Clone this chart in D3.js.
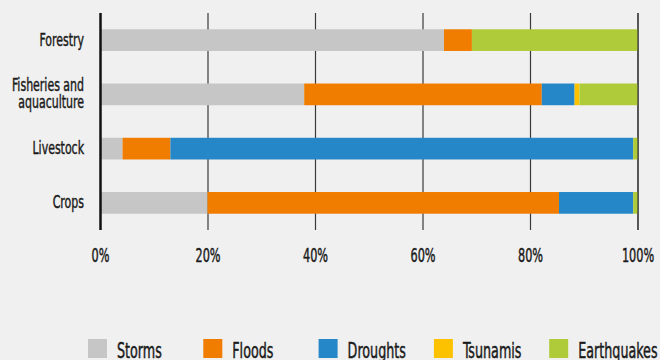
<!DOCTYPE html>
<html><head><meta charset="utf-8">
<script src="https://cdn.jsdelivr.net/npm/d3@7"></script>
<style>
html,body{margin:0;padding:0;background:#f0f0f0;}
svg{display:block;font-family:"DejaVu Sans Condensed","DejaVu Sans",sans-serif;font-stretch:condensed;}
svg text{stroke:#1a1a1a;stroke-width:0.45px;paint-order:stroke;}
</style></head>
<body>
<svg id="chart" width="660" height="360"></svg>
<script>
const categories = ["Forestry", "Fisheries and\naquaculture", "Livestock", "Crops"];
const seriesNames = ["Storms", "Floods", "Droughts", "Tsunamis", "Earthquakes"];
const storms      = [63.9, 37.9, 4.1, 19.9];
const floods      = [5.2, 44.2, 8.9, 65.4];
const droughts    = [0, 6.1, 86.1, 13.8];
const tsunamis    = [0, 0.9, 0, 0];
const earthquakes = [30.9, 10.9, 0.9, 0.9];
const tickValues  = [0, 20, 40, 60, 80, 100];
const colors = ["#c6c6c6", "#f07d00", "#2587c8", "#fcc200", "#b0cb3a"];

const svg = d3.select("#chart");
svg.append("rect").attr("width",660).attr("height",360).attr("fill","#f0f0f0");

const rows = categories.map((c,i)=>({cat:c, Storms:storms[i], Floods:floods[i], Droughts:droughts[i], Tsunamis:tsunamis[i], Earthquakes:earthquakes[i]}));

const x = d3.scaleLinear().domain([0,100]).range([100.5,638]);
const y = d3.scaleBand().domain(categories).range([13,230]).paddingInner(0.6).paddingOuter(0.3);
const SX = 0.66;

// gridlines
svg.append("g").selectAll("line").data(tickValues.slice(1)).join("line")
  .attr("x1",d=>x(d)).attr("x2",d=>x(d)).attr("y1",13).attr("y2",230)
  .attr("stroke","#3a3a3a").attr("stroke-width",1.2);

const stack = d3.stack().keys(seriesNames)(rows);
const color = d3.scaleOrdinal().domain(seriesNames).range(colors);

svg.append("g").selectAll("g").data(stack).join("g")
  .attr("fill",d=>color(d.key))
  .selectAll("rect").data(d=>d).join("rect")
  .attr("x",d=>x(d[0])).attr("width",d=>Math.max(0,x(d[1])-x(d[0])))
  .attr("y",d=>y(d.data.cat)).attr("height",y.bandwidth());

// 100% line on top
svg.append("line").attr("x1",x(100)).attr("x2",x(100)).attr("y1",13).attr("y2",230)
  .attr("stroke","#3a3a3a").attr("stroke-width",1.2);

// axis line
svg.append("line").attr("x1",x(0)).attr("x2",x(0)).attr("y1",13).attr("y2",230)
  .attr("stroke","#111").attr("stroke-width",2.5);

// category labels
const lab = svg.append("g").selectAll("text").data(categories).join("text")
  .attr("text-anchor","end").attr("font-size",18.5).attr("fill","#1a1a1a")
  .attr("transform",d=>`translate(84,${y(d)+y.bandwidth()/2}) scale(${SX},1)`);
lab.each(function(d){
  const lines = d.split("\n");
  const t = d3.select(this);
  lines.forEach((l,i)=>{
    t.append("tspan").attr("x",0)
     .attr("y",(i-(lines.length-1)/2)*17 + 5.5)
     .text(l);
  });
});

// x tick labels
svg.append("g").selectAll("text").data(tickValues).join("text")
  .attr("transform",d=>`translate(${x(d)},262) scale(${SX},1)`)
  .attr("text-anchor","middle")
  .attr("font-size",19).attr("fill","#1a1a1a")
  .text(d=>d+"%");

// legend
const lg = svg.append("g").selectAll("g").data(seriesNames).join("g")
  .attr("transform",(d,i)=>`translate(${88+i*115.3},339)`);
lg.append("rect").attr("width",19).attr("height",19).attr("fill",d=>color(d));
lg.append("text").attr("transform",`translate(29,19) scale(0.69,1)`)
  .attr("font-size",20.5).attr("fill","#1a1a1a").text(d=>d);
</script>
</body></html>
